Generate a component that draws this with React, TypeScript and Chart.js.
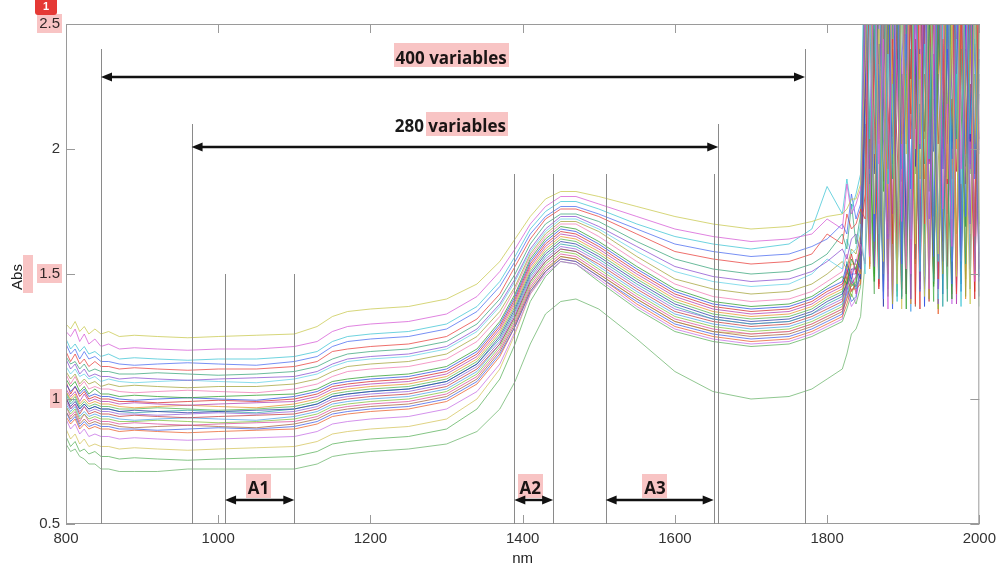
import React, { useEffect, useRef } from 'react';
import { Chart, registerables } from 'chart.js';

Chart.register(...registerables);

const WAVELENGTHS = [
  800, 806, 812, 818, 824, 830, 838, 846, 856, 870, 890, 920, 960, 1000, 1050, 1100, 1130, 1150, 1170, 1200,
  1250, 1300, 1340, 1370, 1390, 1410, 1430, 1450, 1470, 1500, 1550, 1600, 1650, 1700, 1750, 1780, 1800, 1820,
  1826, 1832, 1838, 1844, 1850, 1856, 1862, 1868, 1874, 1880, 1886, 1892, 1898, 1904, 1910, 1916, 1922, 1928,
  1934, 1940, 1946, 1952, 1958, 1964, 1970, 1976, 1982, 1988, 1994, 2000,
];

// Absorbance of each spectrum at WAVELENGTHS
const s01 = [1.30,1.28,1.31,1.27,1.29,1.26,1.28,1.26,1.27,1.25,1.255,1.25,1.245,1.25,1.255,1.26,1.29,1.33,1.35,1.36,1.37,1.40,1.46,1.55,1.64,1.73,1.80,1.83,1.83,1.81,1.77,1.73,1.70,1.68,1.69,1.71,1.73,1.74,
  1.76,1.80,1.80,1.86,2.35,2.95,1.74,2.48,1.55,3.05,2.12,1.46,2.66,1.98,3.10,1.62,2.38,1.41,2.84,2.06,1.58,3.00,1.88,2.52,1.49,3.15,2.04,1.38,2.72,1.66];
const s02 = [1.27,1.25,1.28,1.23,1.26,1.22,1.24,1.21,1.22,1.20,1.205,1.20,1.195,1.20,1.20,1.21,1.23,1.27,1.29,1.30,1.31,1.34,1.41,1.51,1.60,1.70,1.77,1.81,1.81,1.78,1.73,1.68,1.65,1.63,1.64,1.66,1.72,1.68,
  1.86,1.74,1.78,1.84,2.62,1.57,3.08,1.94,2.44,1.36,2.78,2.26,1.71,3.12,1.50,2.58,2.02,2.92,1.44,2.36,3.06,1.76,2.18,1.61,2.82,1.92,2.34,2.98,1.47,2.28];
const s03 = [1.24,1.20,1.22,1.19,1.21,1.18,1.19,1.17,1.18,1.16,1.165,1.16,1.155,1.16,1.16,1.17,1.19,1.23,1.25,1.26,1.27,1.30,1.37,1.47,1.57,1.68,1.75,1.79,1.79,1.76,1.70,1.65,1.62,1.60,1.62,1.68,1.85,1.74,
  1.88,1.76,1.82,1.90,3.02,2.04,2.66,1.48,2.92,1.86,2.26,1.39,2.74,2.16,1.64,3.04,1.51,2.42,1.96,2.88,1.55,2.56,3.10,1.72,2.30,1.37,2.86,2.06,2.44,1.58];
const s04 = [1.22,1.18,1.20,1.16,1.19,1.16,1.17,1.15,1.15,1.14,1.135,1.14,1.145,1.14,1.135,1.15,1.17,1.21,1.23,1.24,1.25,1.28,1.35,1.45,1.55,1.66,1.73,1.77,1.77,1.74,1.68,1.62,1.59,1.57,1.58,1.61,1.64,1.70,
  1.66,1.82,1.72,1.78,2.54,3.00,1.63,2.34,1.40,2.76,1.98,3.08,1.54,2.46,1.84,2.94,1.43,2.64,2.24,1.57,3.04,1.92,2.52,1.46,2.32,3.12,1.73,2.62,1.88,2.40];
const s05 = [1.19,1.15,1.18,1.14,1.16,1.13,1.15,1.13,1.13,1.12,1.125,1.12,1.115,1.12,1.12,1.13,1.15,1.19,1.20,1.21,1.22,1.25,1.32,1.42,1.53,1.64,1.72,1.76,1.76,1.73,1.66,1.59,1.56,1.54,1.55,1.58,1.66,1.62,
  1.74,1.68,1.70,1.76,1.72,2.80,2.14,1.45,3.06,1.92,2.44,1.50,2.90,2.02,2.58,1.38,3.02,1.70,2.26,2.82,1.48,2.44,1.86,3.08,1.42,2.54,1.98,2.76,1.65,3.00];
const s06 = [1.17,1.14,1.15,1.12,1.14,1.11,1.12,1.11,1.11,1.10,1.10,1.105,1.10,1.095,1.10,1.11,1.13,1.16,1.18,1.19,1.20,1.23,1.30,1.40,1.50,1.62,1.70,1.74,1.74,1.71,1.63,1.56,1.52,1.50,1.51,1.54,1.58,1.66,
  1.60,1.78,1.62,1.74,2.86,1.66,2.52,1.49,2.28,3.04,1.88,2.64,1.40,2.42,2.92,1.56,2.18,1.94,3.06,1.47,2.52,2.14,1.39,2.88,2.04,2.40,1.54,3.02,1.90,2.48];
const s07 = [1.16,1.12,1.14,1.10,1.12,1.09,1.10,1.09,1.09,1.08,1.085,1.08,1.075,1.08,1.085,1.09,1.11,1.14,1.16,1.17,1.18,1.21,1.28,1.38,1.48,1.60,1.68,1.73,1.73,1.69,1.61,1.53,1.49,1.47,1.48,1.51,1.55,1.60,
  1.56,1.64,1.66,1.58,2.44,3.04,1.53,2.62,2.04,1.64,2.98,1.48,2.32,2.80,1.40,2.54,2.00,3.06,1.72,2.38,1.44,2.88,1.86,2.30,3.02,1.55,2.64,1.70,2.42,2.00];
const s08 = [1.13,1.10,1.12,1.09,1.10,1.08,1.09,1.07,1.08,1.07,1.065,1.07,1.075,1.07,1.065,1.08,1.10,1.13,1.15,1.16,1.17,1.20,1.27,1.37,1.47,1.59,1.67,1.72,1.72,1.68,1.59,1.51,1.47,1.45,1.46,1.50,1.56,1.52,
  1.64,1.58,1.60,1.70,1.50,2.66,1.98,3.02,1.56,2.38,1.88,2.78,1.41,2.52,3.04,1.66,2.28,1.49,2.90,2.12,1.40,2.62,3.06,1.55,2.44,1.86,2.92,1.44,2.50,2.10];
const s09 = [1.11,1.08,1.10,1.06,1.08,1.06,1.07,1.05,1.06,1.05,1.055,1.05,1.045,1.05,1.05,1.06,1.08,1.11,1.13,1.14,1.15,1.18,1.25,1.35,1.45,1.58,1.66,1.71,1.71,1.67,1.57,1.48,1.44,1.42,1.43,1.46,1.50,1.55,
  1.52,1.60,1.58,1.66,2.64,1.70,3.00,2.10,1.50,2.54,1.38,2.92,2.02,2.30,1.55,3.04,1.88,2.42,1.40,2.76,2.00,1.50,3.08,2.22,1.66,2.66,1.41,2.40,3.00,1.70];
const s10 = [1.10,1.06,1.09,1.05,1.07,1.04,1.05,1.04,1.04,1.03,1.025,1.03,1.035,1.03,1.025,1.04,1.06,1.09,1.11,1.12,1.13,1.16,1.23,1.33,1.44,1.57,1.65,1.70,1.70,1.65,1.55,1.46,1.41,1.39,1.40,1.43,1.47,1.51,
  1.58,1.50,1.55,1.62,1.54,2.44,3.02,1.66,2.62,2.10,1.39,2.88,2.22,1.52,3.04,2.00,2.52,1.50,2.30,2.90,1.42,2.54,1.88,3.06,1.50,2.32,2.80,1.66,2.64,1.52];
const s11 = [1.08,1.05,1.07,1.03,1.05,1.02,1.04,1.02,1.02,1.01,1.015,1.01,1.005,1.01,1.015,1.02,1.04,1.07,1.08,1.09,1.10,1.13,1.20,1.31,1.42,1.56,1.64,1.69,1.68,1.63,1.53,1.44,1.39,1.37,1.38,1.41,1.45,1.49,
  1.46,1.56,1.52,1.60,2.52,2.06,1.47,2.86,1.83,2.42,3.00,1.58,2.30,1.36,2.78,2.08,3.04,1.62,2.52,1.45,2.40,3.02,1.97,1.40,2.74,2.16,1.69,3.04,1.51,2.36];
const s12 = [1.06,1.03,1.05,1.02,1.04,1.01,1.02,1.01,1.01,1.00,0.995,1.00,1.005,1.00,0.995,1.01,1.03,1.06,1.07,1.08,1.09,1.12,1.19,1.30,1.41,1.55,1.63,1.68,1.67,1.62,1.52,1.43,1.38,1.36,1.37,1.40,1.44,1.47,
  1.54,1.48,1.56,1.52,2.22,3.04,1.64,2.42,1.53,2.64,1.94,3.02,1.47,2.52,1.84,2.30,2.92,1.37,2.62,1.99,3.06,1.55,2.40,1.96,2.88,1.43,2.52,2.04,3.02,1.49];
const s13 = [1.07,1.02,1.05,1.01,1.03,1.00,1.01,1.00,1.00,0.99,0.99,0.985,0.99,0.995,0.99,1.00,1.02,1.05,1.06,1.07,1.08,1.11,1.18,1.29,1.40,1.54,1.62,1.67,1.66,1.61,1.51,1.42,1.37,1.35,1.36,1.39,1.43,1.46,
  1.50,1.58,1.50,1.64,1.82,2.74,2.36,1.44,2.96,2.18,1.62,2.58,1.55,2.98,2.04,2.44,1.36,2.86,2.12,1.48,2.60,1.92,3.02,1.56,2.38,2.84,1.86,2.26,1.40,2.72];
const s14 = [1.04,1.01,1.03,0.99,1.02,0.99,1.00,0.99,0.99,0.98,0.985,0.98,0.975,0.98,0.985,0.99,1.01,1.04,1.05,1.06,1.07,1.10,1.17,1.28,1.39,1.53,1.61,1.66,1.65,1.60,1.50,1.41,1.36,1.34,1.35,1.38,1.42,1.45,
  1.52,1.46,1.49,1.58,2.96,1.92,2.48,1.54,2.18,3.02,1.74,2.36,2.04,1.42,2.84,2.32,1.50,3.00,1.94,2.50,1.48,2.72,2.02,3.04,1.38,2.62,2.12,1.52,2.86,1.98];
const s15 = [1.03,1.00,1.02,0.98,1.00,0.98,0.99,0.98,0.98,0.97,0.965,0.97,0.975,0.97,0.965,0.98,1.00,1.03,1.04,1.05,1.06,1.09,1.16,1.27,1.38,1.52,1.60,1.65,1.64,1.59,1.49,1.40,1.35,1.33,1.34,1.37,1.41,1.44,
  1.48,1.54,1.54,1.50,2.42,1.52,2.96,2.02,2.62,1.66,2.30,3.02,1.54,2.52,1.38,2.84,2.22,1.88,3.04,1.50,2.30,2.74,1.64,2.50,2.00,3.02,1.40,2.40,2.02,2.62];
const s16 = [1.03,0.99,1.01,0.97,0.99,0.97,0.98,0.97,0.97,0.96,0.96,0.965,0.96,0.955,0.96,0.97,0.99,1.02,1.03,1.04,1.05,1.08,1.15,1.26,1.37,1.51,1.59,1.64,1.63,1.58,1.48,1.39,1.34,1.32,1.33,1.36,1.40,1.43,
  1.51,1.45,1.47,1.56,2.66,2.12,1.50,2.84,2.34,1.41,2.56,3.00,1.71,2.28,1.53,2.68,3.04,1.63,2.20,1.39,2.84,2.05,2.52,1.47,3.02,1.69,2.26,2.74,1.55,2.50];
const s17 = [1.00,0.97,0.99,0.96,0.98,0.96,0.97,0.96,0.96,0.95,0.955,0.95,0.945,0.95,0.955,0.96,0.98,1.01,1.02,1.03,1.04,1.07,1.14,1.25,1.36,1.50,1.58,1.63,1.62,1.57,1.47,1.38,1.33,1.31,1.32,1.35,1.39,1.42,
  1.46,1.52,1.52,1.48,2.24,3.00,1.90,2.42,1.37,2.74,2.05,2.32,3.02,1.57,2.62,1.93,2.40,1.44,3.00,2.12,1.54,2.62,3.04,1.68,2.30,1.46,2.84,2.03,2.52,1.41];
const s18 = [1.02,0.98,1.00,0.96,0.98,0.96,0.97,0.96,0.96,0.95,0.945,0.95,0.955,0.95,0.945,0.96,0.98,1.01,1.02,1.03,1.04,1.07,1.14,1.24,1.35,1.49,1.57,1.62,1.61,1.56,1.46,1.37,1.32,1.30,1.31,1.34,1.38,1.41,
  1.55,1.47,1.45,1.62,1.54,2.52,3.02,2.00,1.43,2.84,2.22,1.66,2.62,3.00,1.52,2.40,2.06,2.84,1.48,2.30,3.04,1.37,2.52,2.00,2.74,1.56,2.40,3.00,1.90,2.22];
const s19 = [0.99,0.96,0.98,0.95,0.97,0.95,0.96,0.95,0.95,0.94,0.94,0.935,0.94,0.945,0.94,0.95,0.97,1.00,1.01,1.02,1.03,1.06,1.13,1.23,1.34,1.48,1.56,1.61,1.60,1.55,1.45,1.36,1.32,1.30,1.31,1.34,1.37,1.40,
  1.45,1.50,1.50,1.55,2.74,1.66,2.40,3.00,1.55,2.52,1.42,3.02,2.12,1.70,2.74,2.03,3.00,1.46,2.40,2.84,1.38,2.40,1.64,3.04,2.12,1.50,2.62,1.92,3.00,1.57];
const s20 = [1.01,0.96,0.98,0.94,0.97,0.94,0.95,0.94,0.94,0.93,0.935,0.93,0.925,0.93,0.935,0.94,0.96,0.99,1.00,1.01,1.02,1.05,1.12,1.22,1.33,1.47,1.55,1.60,1.59,1.54,1.44,1.35,1.31,1.29,1.30,1.33,1.36,1.39,
  1.49,1.43,1.46,1.59,2.30,1.54,2.82,2.10,2.96,1.50,2.40,2.02,1.41,2.70,2.28,2.98,1.66,2.50,1.39,2.90,2.02,2.42,1.53,2.80,1.91,2.30,2.96,1.44,2.60,2.04];
const s21 = [0.98,0.95,0.97,0.93,0.95,0.93,0.94,0.93,0.93,0.92,0.915,0.92,0.925,0.92,0.915,0.93,0.95,0.98,0.99,1.00,1.01,1.04,1.11,1.22,1.33,1.47,1.55,1.60,1.59,1.53,1.43,1.34,1.30,1.28,1.29,1.32,1.35,1.38,
  1.42,1.48,1.44,1.50,2.02,2.62,1.63,2.90,2.20,1.47,2.52,2.96,1.92,2.30,1.35,2.80,2.00,2.40,2.94,1.57,2.60,2.07,2.92,1.45,2.50,1.74,2.30,2.82,1.54,2.40];
const s22 = [0.97,0.94,0.96,0.92,0.94,0.92,0.93,0.92,0.92,0.91,0.91,0.915,0.91,0.905,0.91,0.92,0.94,0.97,0.98,0.99,1.00,1.03,1.10,1.21,1.32,1.46,1.54,1.59,1.58,1.52,1.42,1.33,1.29,1.27,1.28,1.31,1.34,1.37,
  1.47,1.41,1.49,1.57,2.50,2.04,1.49,2.60,2.94,1.71,2.30,1.43,2.90,2.14,2.60,1.54,2.40,2.96,1.83,2.20,1.36,2.70,2.22,1.62,2.92,2.08,1.48,2.50,2.96,1.69];
const s23 = [0.97,0.93,0.95,0.91,0.94,0.91,0.92,0.91,0.91,0.90,0.905,0.90,0.895,0.90,0.905,0.91,0.93,0.96,0.97,0.98,0.99,1.02,1.09,1.20,1.31,1.45,1.53,1.58,1.57,1.51,1.41,1.32,1.28,1.26,1.27,1.30,1.33,1.36,
  1.44,1.51,1.42,1.52,2.40,2.94,1.56,2.30,1.87,2.82,1.39,2.50,2.06,2.90,1.63,2.30,1.44,2.70,2.16,2.92,1.53,2.50,1.86,2.40,2.94,1.47,2.60,2.03,1.61,2.90];
const s24 = [0.95,0.92,0.94,0.90,0.92,0.90,0.91,0.90,0.90,0.89,0.885,0.89,0.895,0.89,0.885,0.90,0.92,0.95,0.96,0.97,0.98,1.01,1.08,1.19,1.30,1.44,1.52,1.57,1.56,1.50,1.40,1.31,1.27,1.25,1.26,1.29,1.32,1.35,
  1.40,1.46,1.45,1.48,2.10,1.53,2.70,2.04,2.40,2.92,1.57,2.60,1.72,2.30,2.94,1.37,2.50,2.07,2.80,1.46,2.40,2.92,1.74,2.20,1.43,2.94,2.01,2.50,1.58,2.30];
const s25 = [0.95,0.91,0.93,0.89,0.91,0.89,0.90,0.89,0.89,0.88,0.88,0.875,0.88,0.885,0.88,0.89,0.91,0.94,0.95,0.96,0.97,1.00,1.07,1.18,1.29,1.43,1.51,1.56,1.55,1.49,1.39,1.30,1.26,1.24,1.25,1.28,1.31,1.34,
  1.45,1.39,1.41,1.54,2.60,1.86,2.92,1.46,2.50,2.13,1.36,2.80,2.34,1.61,2.92,2.05,1.53,2.60,2.94,1.73,2.30,1.42,2.70,2.03,2.92,1.55,2.40,1.94,2.80,1.47];
const s26 = [0.93,0.90,0.92,0.88,0.90,0.88,0.89,0.88,0.88,0.87,0.875,0.87,0.865,0.87,0.875,0.88,0.90,0.93,0.94,0.95,0.96,0.99,1.06,1.17,1.29,1.43,1.51,1.56,1.55,1.49,1.38,1.29,1.25,1.23,1.24,1.27,1.30,1.33,
  1.38,1.44,1.44,1.46,2.30,2.92,2.03,1.55,2.60,2.94,1.62,2.40,1.44,2.70,2.14,2.92,1.47,2.30,1.95,2.80,1.34,2.50,2.94,1.88,2.40,1.57,2.92,2.12,1.43,2.50];
const s27 = [0.92,0.88,0.90,0.86,0.88,0.85,0.86,0.85,0.85,0.84,0.845,0.84,0.835,0.84,0.845,0.85,0.87,0.90,0.91,0.92,0.93,0.96,1.03,1.14,1.27,1.42,1.50,1.55,1.54,1.48,1.37,1.28,1.24,1.22,1.23,1.26,1.29,1.32,
  1.43,1.37,1.40,1.51,2.50,2.04,2.92,1.71,2.20,1.44,2.70,2.94,1.87,2.40,1.54,2.60,2.92,1.48,2.30,2.06,2.94,1.63,2.50,1.38,2.70,2.24,1.69,2.92,2.02,1.53];
const s28 = [0.88,0.84,0.86,0.82,0.84,0.81,0.82,0.81,0.81,0.80,0.805,0.80,0.795,0.80,0.805,0.81,0.83,0.86,0.87,0.88,0.89,0.92,1.00,1.12,1.26,1.42,1.51,1.57,1.56,1.50,1.40,1.31,1.27,1.26,1.27,1.30,1.33,1.36,
  1.41,1.47,1.43,1.47,2.20,1.64,2.60,2.92,1.47,2.40,2.05,2.94,1.36,2.50,2.24,1.68,2.92,2.04,2.60,1.52,2.30,2.94,1.44,2.60,2.06,2.40,2.92,1.56,2.30,2.03];
const s29 = [0.85,0.81,0.83,0.79,0.80,0.78,0.79,0.77,0.77,0.76,0.765,0.76,0.755,0.76,0.765,0.77,0.79,0.82,0.83,0.84,0.85,0.88,0.96,1.08,1.22,1.39,1.49,1.55,1.54,1.47,1.36,1.27,1.23,1.21,1.22,1.25,1.28,1.31,
  1.36,1.42,1.38,1.45,2.00,2.60,1.54,2.30,2.92,1.86,2.50,1.41,2.80,2.12,1.49,2.92,2.22,1.64,2.60,2.94,1.55,2.40,2.04,2.92,1.48,2.50,1.93,2.70,2.94,1.37];
const s30 = [0.82,0.79,0.80,0.77,0.76,0.74,0.74,0.72,0.72,0.71,0.71,0.71,0.72,0.72,0.72,0.72,0.74,0.77,0.78,0.79,0.80,0.82,0.87,0.96,1.07,1.22,1.34,1.39,1.40,1.36,1.24,1.11,1.03,1.00,1.01,1.04,1.08,1.12,
  1.18,1.26,1.28,1.33,1.55,1.90,1.42,2.30,1.68,2.60,1.52,2.20,2.90,1.42,2.40,1.90,2.80,1.52,2.30,1.50,2.60,2.00,2.90,1.42,2.40,1.68,2.70,1.90,2.30,1.52];

const SERIES = [s01, s02, s03, s04, s05, s06, s07, s08, s09, s10, s11, s12, s13, s14, s15,
  s16, s17, s18, s19, s20, s21, s22, s23, s24, s25, s26, s27, s28, s29, s30];

const COLORS = ['#c9c94f', '#d65ad6', '#3fc4d4', '#4a6cf0', '#e8403c', '#3aa57c', '#8a4fd0', '#62d2e6',
  '#a4a43a', '#f07ab4', '#2e9e2e', '#2d4fe0', '#d42a2a', '#b23cb2', '#e8922c', '#4fb54f', '#2a3aa8',
  '#2aa3a3', '#9460d8', '#c43c3c', '#4a9fe8', '#7fc23c', '#d84c9c', '#a8643c', '#3f5fe8', '#e8602c',
  '#c66ee6', '#d4c45c', '#5cb25c', '#6cb46c'];

const X_TICKS = [800, 1000, 1200, 1400, 1600, 1800, 2000];
const Y_TICKS = [0.5, 1, 1.5, 2, 2.5];
const Y_TICKS_HIGHLIGHTED = [2.5, 1.5, 1];

// Vertical marker lines: wavelength and the absorbance their top reaches
const MARKER_NM = [846, 965, 1009, 1100, 1389, 1440, 1509, 1651, 1657, 1771];
const MARKER_TOP = [2.40, 2.10, 1.50, 1.50, 1.90, 1.90, 1.90, 1.90, 2.10, 2.40];

// Double-headed arrows
const ARROW_FROM = [846, 965, 1009, 1389, 1509];
const ARROW_TO = [1771, 1657, 1100, 1440, 1651];
const ARROW_Y = [2.288, 2.008, 0.596, 0.596, 0.596];

// Labels above the arrows
const LABEL_TEXT = ['400 variables', '280 variables', 'A1', 'A2', 'A3'];
const LABEL_HIGHLIGHT = ['400 variables', 'variables', 'A1', 'A2', 'A3'];
const LABEL_NM = [1306, 1305, 1053, 1410, 1574];
const LABEL_Y = [2.342, 2.068, 0.62, 0.62, 0.62];

const TICK_FONT = '"Liberation Sans", Arial, sans-serif';
const LABEL_FONT = 'bold 17px "Open Sans", "Liberation Sans", sans-serif';
const HIGHLIGHT = '#f8c4c4';

function drawArrow(ctx: CanvasRenderingContext2D, x1: number, x2: number, y: number) {
  const head = 11;
  const hw = 4.5;
  ctx.beginPath();
  ctx.moveTo(x1 + head - 1, y);
  ctx.lineTo(x2 - head + 1, y);
  ctx.stroke();
  ctx.beginPath();
  ctx.moveTo(x1, y);
  ctx.lineTo(x1 + head, y - hw);
  ctx.lineTo(x1 + head, y + hw);
  ctx.closePath();
  ctx.fill();
  ctx.beginPath();
  ctx.moveTo(x2, y);
  ctx.lineTo(x2 - head, y - hw);
  ctx.lineTo(x2 - head, y + hw);
  ctx.closePath();
  ctx.fill();
}

const annotationPlugin = {
  id: 'spectraAnnotations',
  afterDatasetsDraw(chart: any) {
    const { ctx, chartArea: a, scales } = chart;
    const x = scales.x;
    const y = scales.y;
    ctx.save();

    // axis box
    ctx.strokeStyle = '#9a9a9a';
    ctx.lineWidth = 1;
    ctx.strokeRect(a.left + 0.5, a.top + 0.5, a.right - a.left - 1, a.bottom - a.top - 1);

    // inward tick marks
    ctx.beginPath();
    X_TICKS.forEach((v) => {
      const px = Math.round(x.getPixelForValue(v)) + 0.5;
      ctx.moveTo(px, a.bottom);
      ctx.lineTo(px, a.bottom - 9);
      ctx.moveTo(px, a.top);
      ctx.lineTo(px, a.top + 9);
    });
    Y_TICKS.forEach((v) => {
      const py = Math.round(y.getPixelForValue(v)) + 0.5;
      ctx.moveTo(a.left, py);
      ctx.lineTo(a.left + 9, py);
      ctx.moveTo(a.right, py);
      ctx.lineTo(a.right - 9, py);
    });
    ctx.stroke();

    // vertical marker lines
    ctx.strokeStyle = '#8a8a8a';
    ctx.beginPath();
    MARKER_NM.forEach((nm, i) => {
      const px = Math.round(x.getPixelForValue(nm)) + 0.5;
      ctx.moveTo(px, y.getPixelForValue(MARKER_TOP[i]));
      ctx.lineTo(px, a.bottom);
    });
    ctx.stroke();

    // arrows
    ctx.strokeStyle = '#111';
    ctx.fillStyle = '#111';
    ctx.lineWidth = 2.4;
    ARROW_FROM.forEach((from, i) => {
      drawArrow(ctx, x.getPixelForValue(from), x.getPixelForValue(ARROW_TO[i]), y.getPixelForValue(ARROW_Y[i]));
    });

    // arrow labels
    ctx.font = LABEL_FONT;
    ctx.fillStyle = '#1a1a1a';
    ctx.textAlign = 'center';
    ctx.textBaseline = 'alphabetic';
    LABEL_TEXT.forEach((t, i) => {
      ctx.fillText(t, x.getPixelForValue(LABEL_NM[i]), y.getPixelForValue(LABEL_Y[i]));
    });

    // axis titles
    ctx.font = `15px ${TICK_FONT}`;
    ctx.fillStyle = '#222';
    ctx.textBaseline = 'middle';
    ctx.fillText('nm', (a.left + a.right) / 2, 559);
    ctx.save();
    ctx.translate(18, 277);
    ctx.rotate(-Math.PI / 2);
    ctx.fillText('Abs', 0, 0);
    ctx.restore();

    ctx.restore();
  },
  afterDraw(chart: any) {
    const { ctx, scales } = chart;
    const x = scales.x;
    const y = scales.y;
    ctx.save();
    ctx.globalCompositeOperation = 'multiply';
    ctx.fillStyle = HIGHLIGHT;

    // label highlights
    ctx.font = LABEL_FONT;
    LABEL_TEXT.forEach((t, i) => {
      const cx = x.getPixelForValue(LABEL_NM[i]);
      const base = y.getPixelForValue(LABEL_Y[i]);
      const w = ctx.measureText(t).width;
      const left = cx - w / 2;
      const hl = LABEL_HIGHLIGHT[i];
      const start = left + ctx.measureText(t.slice(0, t.length - hl.length)).width;
      const end = left + w;
      ctx.fillRect(Math.round(start) - 2, Math.round(base) - 20, Math.round(end - start) + 4, 24);
    });

    // tick label highlights
    ctx.font = `15px ${TICK_FONT}`;
    Y_TICKS_HIGHLIGHTED.forEach((v) => {
      const py = y.getPixelForValue(v);
      const w = ctx.measureText(String(v)).width;
      ctx.fillRect(Math.round(60 - w) - 2, Math.round(py) - 10, Math.round(w) + 4, 19);
    });

    // axis title highlight
    ctx.fillRect(23, 255, 10, 38);
    ctx.restore();

    // badge
    ctx.save();
    ctx.fillStyle = '#e53935';
    ctx.beginPath();
    if ((ctx as any).roundRect) {
      (ctx as any).roundRect(35, -4, 22, 19, 3);
    } else {
      ctx.rect(35, -4, 22, 19);
    }
    ctx.fill();
    ctx.fillStyle = '#fff';
    ctx.font = `bold 11px ${TICK_FONT}`;
    ctx.textAlign = 'center';
    ctx.textBaseline = 'middle';
    ctx.fillText('1', 46, 7);
    ctx.restore();
  },
};

export default function App() {
  const canvasRef = useRef<HTMLCanvasElement>(null);

  useEffect(() => {
    const canvas = canvasRef.current;
    if (!canvas) return;
    const datasets = SERIES.map((s, k) => ({
      label: `spectrum ${k + 1}`,
      data: WAVELENGTHS.map((w, i) => ({ x: w, y: s[i] })).filter((p) => p.y !== undefined),
      borderColor: COLORS[k % COLORS.length] + 'c0',
      backgroundColor: COLORS[k % COLORS.length],
      borderWidth: 1,
      pointRadius: 0,
      fill: false,
      tension: 0,
    }));

    const chart = new Chart(canvas, {
      type: 'line',
      data: { datasets },
      options: {
        animation: false,
        responsive: false,
        devicePixelRatio: 1,
        parsing: false,
        events: [],
        layout: { padding: { left: 0, right: 19, top: 24, bottom: 0 } },
        plugins: { legend: { display: false }, tooltip: { enabled: false }, title: { display: false } },
        scales: {
          x: {
            type: 'linear',
            min: 800,
            max: 2000,
            afterFit: (s: any) => { s.height = 43; },
            grid: { display: false, drawTicks: false },
            border: { display: false },
            ticks: {
              stepSize: 200,
              autoSkip: false,
              maxRotation: 0,
              padding: 6,
              color: '#333',
              font: { family: TICK_FONT, size: 15 },
              callback: (v: any) => String(v),
            },
          },
          y: {
            type: 'linear',
            min: 0.5,
            max: 2.5,
            afterFit: (s: any) => { s.width = 66; },
            grid: { display: false, drawTicks: false },
            border: { display: false },
            ticks: {
              stepSize: 0.5,
              padding: 6,
              color: '#333',
              font: { family: TICK_FONT, size: 15 },
              callback: (v: any) => String(v),
            },
          },
        },
      },
      plugins: [annotationPlugin],
    } as any);
    return () => chart.destroy();
  }, []);

  return (
    <div style={{ position: 'fixed', left: 0, top: 0, width: 1002, height: 567, background: '#fff' }}>
      <canvas ref={canvasRef} width={1002} height={567} style={{ width: 1002, height: 567, display: 'block' }} />
    </div>
  );
}
